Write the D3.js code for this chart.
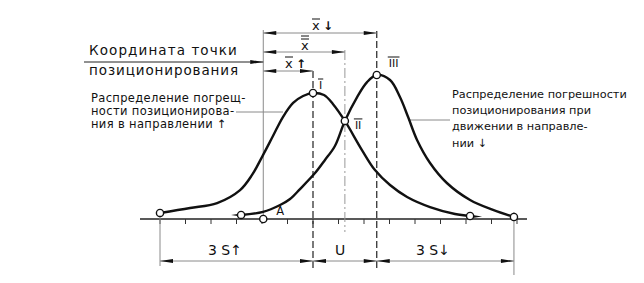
<!DOCTYPE html>
<html>
<head>
<meta charset="utf-8">
<script src="https://cdn.jsdelivr.net/npm/d3@7"></script>
<style>
  body { margin: 0; background: #fff; }
  text { font-family: "DejaVu Sans", sans-serif; fill: #111; }
</style>
</head>
<body>
<div id="container"></div>
<script>
// distribution curves, x in tick units, y relative density
const curveUp = [[0,0.042],[1.18,0.076],[2.24,0.111],[3.14,0.201],[3.61,0.306],[4.04,0.444],[4.43,0.576],
  [4.82,0.708],[5.22,0.806],[5.61,0.854],[6,0.875],[6.43,0.861],[6.78,0.799],[7.25,0.681],[7.92,0.479],
  [8.43,0.34],[9.02,0.236],[9.69,0.153],[10.59,0.083],[11.57,0.035],[12.16,0.021]]
const curveDown = [[3.18,0.028],[4.04,0.049],[4.71,0.097],[5.1,0.139],[5.49,0.208],[6.08,0.319],[6.47,0.41],
  [6.86,0.507],[7.25,0.681],[7.73,0.847],[8.12,0.951],[8.5,1],[9.02,0.965],[9.41,0.847],[9.73,0.708],
  [10.08,0.549],[10.59,0.389],[11.25,0.25],[12.16,0.132],[13.06,0.063],[13.88,0.014]]
const ticks = [0,1,2,3,4,5,6,7,8,9,10,11,12,13,14]
const pointA = 4.05
const romanLabels = ['I', 'II', 'III']
const romanPoints = [[6,0.875],[7.25,0.681],[8.5,1]]
const topDims = [{label:'↓', bars:1, from:pointA, to:8.5}, {label:'', bars:2, from:pointA, to:7.25}, {label:'↑', bars:1, from:pointA, to:6}]
const bottomDims = [{label:'3 S↑', from:0, to:6}, {label:'U', from:6, to:8.5}, {label:'3 S↓', from:8.5, to:13.88}]
const textCoord = ['Координата точки', 'позиционирования']
const textUp = ['Распределение погрещ-', 'ности позиционирова-', 'ния в направлении ↑']
const textDown = ['Распределение погрешности', 'позиционирования при', 'движении в направле-', 'нии ↓']

const width = 644, height = 283
const svg = d3.select('#container').append('svg').attr('width', width).attr('height', height)
const x = d3.scaleLinear().domain([0, 14]).range([160, 517])
const y = d3.scaleLinear().domain([0, 1]).range([219, 75])
const grey = '#8a8a8a'

function arrow(tx, ty, dir) {
  // dir = -1 points left, 1 points right
  const L = 13, w = 2
  svg.append('path')
    .attr('d', `M${tx},${ty} L${tx - dir * L},${ty - w} L${tx - dir * L},${ty + w} Z`)
    .attr('fill', '#111')
}
function vline(xv, y1, y2, dash, color, sw) {
  svg.append('line').attr('x1', x(xv)).attr('x2', x(xv)).attr('y1', y1).attr('y2', y2)
    .attr('stroke', color).attr('stroke-width', sw).attr('stroke-dasharray', dash)
}

// axis + ticks
svg.append('line').attr('x1', 140).attr('x2', 527).attr('y1', y(0)).attr('y2', y(0))
  .attr('stroke', '#222').attr('stroke-width', 1.3)
svg.selectAll('.tick').data(ticks).enter().append('line')
  .attr('x1', d => x(d)).attr('x2', d => x(d)).attr('y1', y(0)).attr('y2', y(0) + 5)
  .attr('stroke', '#333').attr('stroke-width', 1)

// vertical reference lines
vline(0, y(0.042), 266, null, grey, 1)
vline(pointA, 30, y(0), null, grey, 1)
vline(6, 71, 268, '7,3', '#222', 1.2)
vline(7.25, 50, 232, '10,3,2,3', '#999', 1)
vline(8.5, 31, 268, '7,3', '#222', 1.2)
vline(13.88, 212, 275, null, grey, 1)

// top dimensions
const topRows = [33, 52, 71]
topDims.forEach((d, i) => {
  const yy = topRows[i]
  svg.append('line').attr('x1', x(d.from)).attr('x2', x(d.to)).attr('y1', yy).attr('y2', yy)
    .attr('stroke', grey).attr('stroke-width', 1)
  arrow(x(d.from), yy, -1)
  arrow(x(d.to), yy, 1)
})
const topLabelX = [312, 301, 285]
const topLabelY = [30, 50, 68]
topDims.forEach((d, i) => {
  const lx = topLabelX[i], ly = topLabelY[i]
  svg.append('text').attr('x', lx).attr('y', ly).attr('font-size', 13).text('x')
  for (let b = 0; b < d.bars; b++) {
    svg.append('line').attr('x1', lx).attr('x2', lx + 8).attr('y1', ly - 11 - b * 3).attr('y2', ly - 11 - b * 3)
      .attr('stroke', '#111').attr('stroke-width', 1)
  }
  if (d.label) svg.append('text').attr('x', lx + 11).attr('y', ly).attr('font-size', 12).attr('font-weight', 'bold').text(d.label)
})

// coordinate label with leader
svg.append('text').attr('x', 89).attr('y', 55).attr('font-size', 13.5).attr('letter-spacing', 1.1).text(textCoord[0])
svg.append('text').attr('x', 89).attr('y', 75).attr('font-size', 13.5).attr('letter-spacing', 0.9).text(textCoord[1])
svg.append('line').attr('x1', 84).attr('x2', x(pointA)).attr('y1', 62).attr('y2', 62).attr('stroke', '#222').attr('stroke-width', 1)
arrow(x(pointA), 62, 1)

// left description
const upY = [102, 115, 128]
textUp.forEach((t, i) => svg.append('text').attr('x', 91).attr('y', upY[i]).attr('font-size', 11.5)
  .attr('letter-spacing', 0.35).text(t))
svg.append('line').attr('x1', 236).attr('x2', 283).attr('y1', 112).attr('y2', 112).attr('stroke', grey).attr('stroke-width', 1)

// right description
const downY = [98, 114, 130, 147]
textDown.forEach((t, i) => svg.append('text').attr('x', 452).attr('y', downY[i]).attr('font-size', 11.3).text(t))
svg.append('line').attr('x1', 408).attr('x2', 450).attr('y1', 120).attr('y2', 120).attr('stroke', grey).attr('stroke-width', 1)

// curves
const line = d3.line().x(d => x(d[0])).y(d => y(d[1])).curve(d3.curveCatmullRom.alpha(0.5))
;[curveUp, curveDown].forEach(c => {
  svg.append('path').attr('d', line(c)).attr('fill', 'none').attr('stroke', '#111').attr('stroke-width', 2.4)
})
// travel-direction tails
const endUp = curveUp[curveUp.length - 1], startDown = curveDown[0]
arrow(x(endUp[0]) + 12, y(endUp[1]) + 0.5, 1)
arrow(x(startDown[0]) - 10, y(startDown[1]), -1)

// circles
const circlePts = [curveUp[0], romanPoints[0], romanPoints[1], endUp, startDown, romanPoints[2],
  curveDown[curveDown.length - 1], [pointA, 0]]
svg.selectAll('.pt').data(circlePts).enter().append('circle')
  .attr('cx', d => x(d[0])).attr('cy', d => y(d[1])).attr('r', 3.6)
  .attr('fill', '#fff').attr('stroke', '#111').attr('stroke-width', 1.4)
svg.append('text').attr('x', x(pointA) + 13).attr('y', y(0) - 4).attr('font-size', 11.5).text('A')

// roman labels with overbars
const romanOff = [[6, -4], [10, 8], [12, -8]]
romanLabels.forEach((r, i) => {
  const lx = x(romanPoints[i][0]) + romanOff[i][0], ly = y(romanPoints[i][1]) + romanOff[i][1]
  const t = svg.append('text').attr('x', lx).attr('y', ly).attr('font-size', 11)
    .attr('font-family', 'Liberation Serif').text(r)
  const w = t.node().getComputedTextLength()
  svg.append('line').attr('x1', lx - 1).attr('x2', lx + w + 1).attr('y1', ly - 10).attr('y2', ly - 10)
    .attr('stroke', '#111').attr('stroke-width', 1)
})

// bottom dimensions
const dimY = 261
bottomDims.forEach(d => {
  svg.append('line').attr('x1', x(d.from)).attr('x2', x(d.to)).attr('y1', dimY).attr('y2', dimY)
    .attr('stroke', grey).attr('stroke-width', 1)
  arrow(x(d.from), dimY, -1)
  arrow(x(d.to), dimY, 1)
})
const botLabelX = [225, 340, 433]
bottomDims.forEach((d, i) => {
  svg.append('text').attr('x', botLabelX[i]).attr('y', 255).attr('font-size', 14)
    .attr('text-anchor', 'middle').attr('fill', '#333').text(d.label)
})
</script>
</body>
</html>
